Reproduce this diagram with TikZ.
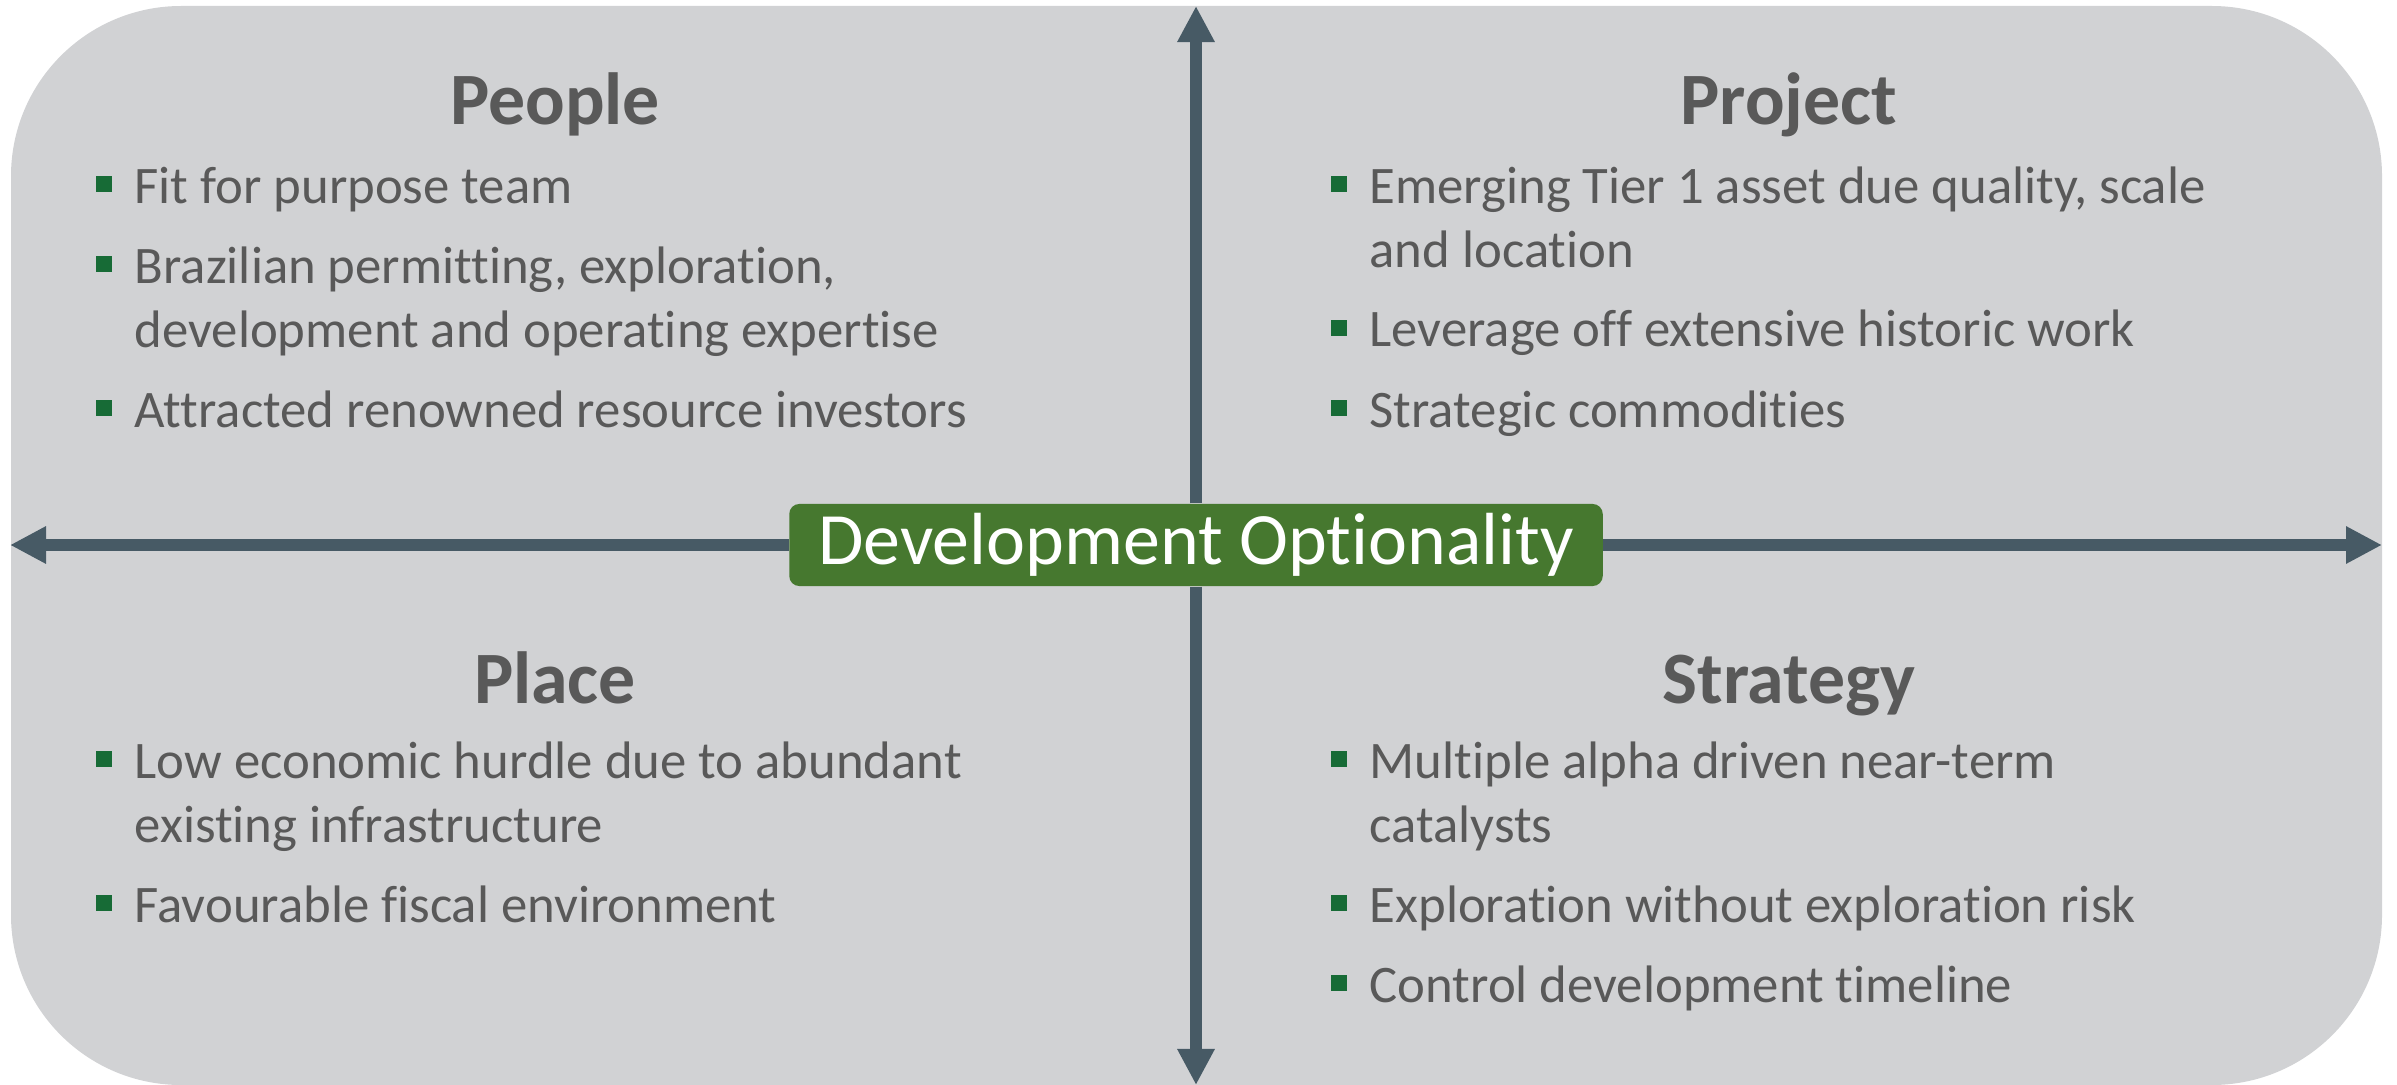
\documentclass[tikz,border=0pt]{standalone}
\usepackage{fontspec}
\setmainfont{Carlito}[Ligatures=NoCommon]
\usepackage{xcolor}
\usepackage{tikz}
\usetikzlibrary{arrows.meta, positioning}

\definecolor{panelgray}{HTML}{D1D2D4}
\definecolor{axisslate}{HTML}{475A65}
\definecolor{hubgreen}{HTML}{46782F}
\definecolor{bulletgreen}{HTML}{176B36}
\definecolor{textgray}{HTML}{595959}

% item text, baseline on its first line
\newcommand{\itemlines}[1]{\begin{tabular}[t]{@{}l@{}}#1\end{tabular}}

\tikzset{
    panel/.style={fill=panelgray, rounded corners=1.7cm},
    axis/.style={draw=axisslate, line width=0.12cm, -{Triangle[length=0.36cm, width=0.35cm]}},
    hub/.style={rectangle, fill=hubgreen, rounded corners=0.1cm, minimum width=8.13cm, minimum height=0.82cm, inner sep=0pt, text=white, font=\fontsize{21}{25}\selectfont},
    heading/.style={anchor=base, text=textgray, font=\bfseries\fontsize{21}{25}\selectfont},
    point/.style={anchor=base west, inner sep=0pt, text=textgray, font=\fontsize{15}{18.2}\selectfont},
    marker/.style={fill=bulletgreen}
}

\begin{document}
\begin{tikzpicture}[x=0.01cm, y=-0.01cm]
    \useasboundingbox (0,0) rectangle (2397,1085);

    % Background panel
    \fill[panel] (11,6) rectangle (2382,1085);

    % Axis end points
    \coordinate (top) at (1196,6);
    \coordinate (bottom) at (1196,1085);
    \coordinate (left) at (10,545);
    \coordinate (right) at (2382,545);

    \node[hub] (hub) at (1196,545) {Development Optionality};

    % Axes out of the centre box
    \foreach \e in {top,bottom,left,right} {
        \draw[axis] (hub) -- (\e);
    }

    % People
    \node[heading] (people) at (555,125) {People};
    \foreach \nm/\y/\txt in {pe1/203/{Fit for purpose team},
                             pe2/283/{Brazilian permitting, exploration,\\development and operating expertise},
                             pe3/427/{Attracted renowned resource investors}} {
        \node[point] (\nm) at (134,\y) {\itemlines{\txt}};
        \fill[marker] (\nm.base west) ++(-38,-11) rectangle ++(16,-16);
    }

    % Project
    \node[heading] (project) at (1789,125) {Project};
    \foreach \nm/\y/\txt in {pr1/203/{Emerging Tier 1 asset due quality, scale\\and location},
                             pr2/347/{Leverage off extensive historic work},
                             pr3/427/{Strategic commodities}} {
        \node[point] (\nm) at (1369,\y) {\itemlines{\txt}};
        \fill[marker] (\nm.base west) ++(-38,-11) rectangle ++(16,-16);
    }

    % Place
    \node[heading] (place) at (555,703) {Place};
    \foreach \nm/\y/\txt in {pl1/778/{Low economic hurdle due to abundant\\existing infrastructure},
                             pl2/922/{Favourable fiscal environment}} {
        \node[point] (\nm) at (134,\y) {\itemlines{\txt}};
        \fill[marker] (\nm.base west) ++(-38,-11) rectangle ++(16,-16);
    }

    % Strategy
    \node[heading] (strategy) at (1789,703) {Strategy};
    \foreach \nm/\y/\txt in {st1/778/{Multiple alpha driven near-term\\catalysts},
                             st2/922/{Exploration without exploration risk},
                             st3/1002/{Control development timeline}} {
        \node[point] (\nm) at (1369,\y) {\itemlines{\txt}};
        \fill[marker] (\nm.base west) ++(-38,-11) rectangle ++(16,-16);
    }
\end{tikzpicture}
\end{document}
